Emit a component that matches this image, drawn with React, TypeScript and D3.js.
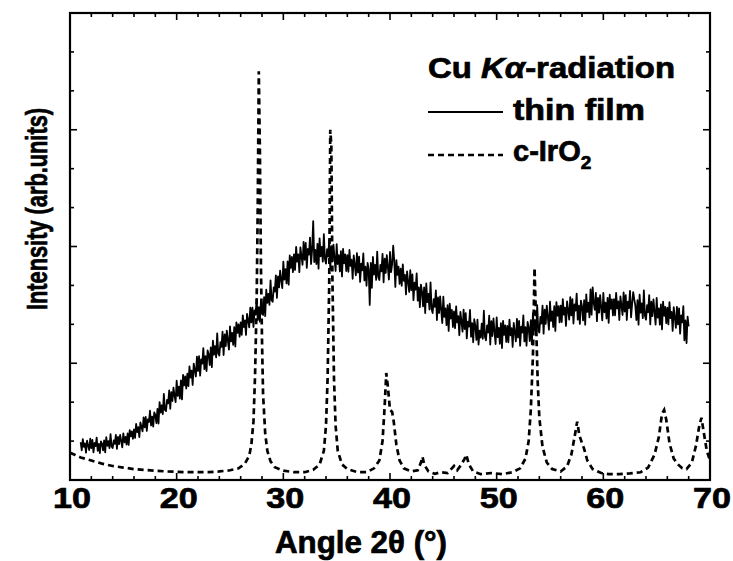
import * as d3 from "d3";

// thin film scan, 11.0° .. 68.0° every 0.1° (arb. units, frame spans 0..12)
const filmStart = 11;
const filmStep = 0.1;
const filmIntensity = [
  0.97, 0.76, 1.05, 0.85, 0.94, 0.7, 1.01, 0.89, 0.77, 1.06,
  0.82, 1.03, 0.71, 0.95, 0.87, 1.09, 0.75, 0.93, 0.69, 0.99,
  0.93, 0.76, 1.02, 0.71, 1.1, 0.88, 1.0, 0.82, 1.18, 0.86,
  0.82, 1.02, 0.93, 1.16, 0.8, 1.11, 0.92, 1.16, 1.0, 0.84,
  1.2, 0.97, 1.11, 0.91, 1.2, 0.9, 1.28, 1.12, 1.25, 1.06,
  1.3, 1.08, 1.44, 1.23, 1.36, 1.1, 1.48, 1.36, 1.25, 1.61,
  1.35, 1.62, 1.26, 1.56, 1.49, 1.78, 1.4, 1.63, 1.37, 1.74,
  1.67, 1.46, 1.83, 1.45, 2.0, 1.73, 1.92, 1.69, 2.21, 1.8,
  1.77, 2.06, 1.97, 2.3, 1.83, 2.26, 2.03, 2.37, 2.17, 2.0,
  2.55, 2.16, 2.4, 2.09, 2.56, 2.07, 2.7, 2.43, 2.66, 2.35,
  2.73, 2.41, 2.92, 2.63, 2.81, 2.44, 2.99, 2.82, 2.66, 3.17,
  2.8, 3.18, 2.68, 3.1, 2.99, 3.39, 2.85, 3.18, 2.8, 3.33,
  3.23, 2.95, 3.41, 2.9, 3.58, 3.22, 3.44, 3.15, 3.77, 3.25,
  3.2, 3.54, 3.42, 3.81, 3.21, 3.74, 3.44, 3.84, 3.58, 3.35,
  3.95, 3.56, 3.78, 3.47, 3.93, 3.43, 4.05, 3.78, 4.0, 3.68,
  4.05, 3.73, 4.23, 3.93, 4.1, 3.73, 4.27, 4.1, 3.92, 4.43,
  4.05, 4.43, 3.93, 4.36, 4.25, 4.65, 4.11, 4.44, 4.07, 4.6,
  4.5, 4.24, 4.7, 4.21, 4.89, 4.55, 4.78, 4.5, 5.13, 4.62,
  4.58, 4.95, 4.84, 5.26, 4.68, 5.23, 4.95, 5.38, 5.14, 4.93,
  5.61, 5.15, 5.42, 5.05, 5.62, 5.02, 5.77, 5.45, 5.73, 5.34,
  5.8, 5.4, 5.99, 5.61, 5.8, 5.34, 5.98, 5.75, 5.53, 6.12,
  5.66, 6.09, 5.45, 5.94, 5.79, 6.23, 5.55, 5.92, 6.65, 5.6,
  5.91, 5.55, 6.07, 5.43, 6.21, 5.75, 5.99, 5.61, 6.32, 5.67,
  5.56, 5.93, 5.74, 6.16, 5.41, 6.0, 5.61, 6.05, 5.7, 5.37,
  6.06, 5.55, 5.78, 5.36, 5.88, 5.23, 5.94, 5.57, 5.8, 5.37,
  5.78, 5.35, 5.91, 5.5, 5.66, 5.17, 5.77, 5.52, 5.26, 5.83,
  5.33, 5.74, 5.09, 5.56, 5.39, 5.82, 5.13, 5.48, 4.99, 5.58,
  5.41, 4.5, 5.58, 4.94, 5.73, 5.28, 5.53, 5.14, 5.87, 5.22,
  5.14, 5.53, 5.36, 5.81, 5.08, 5.69, 5.32, 5.78, 5.46, 5.15,
  5.86, 5.34, 5.55, 6.02, 5.62, 4.96, 5.65, 5.27, 5.48, 5.04,
  5.43, 4.99, 5.54, 5.12, 5.27, 4.77, 5.36, 5.1, 4.83, 5.39,
  4.88, 5.28, 4.62, 5.07, 4.89, 5.31, 4.61, 4.95, 4.44, 5.02,
  4.84, 4.46, 4.95, 4.29, 5.05, 4.57, 4.78, 4.38, 5.08, 4.39,
  4.29, 4.65, 4.45, 4.87, 4.11, 4.69, 4.29, 4.72, 4.37, 4.03,
  4.71, 4.19, 4.41, 3.98, 4.49, 3.83, 4.53, 4.15, 4.37, 3.93,
  4.33, 3.9, 4.46, 4.05, 4.21, 3.72, 4.32, 4.07, 3.81, 4.38,
  3.88, 4.29, 3.64, 4.07, 3.94, 4.37, 3.68, 4.03, 3.54, 4.13,
  3.96, 3.6, 4.12, 3.48, 3.84, 3.66, 4.02, 3.63, 4.35, 3.68,
  3.59, 3.97, 3.79, 4.22, 3.48, 4.08, 3.7, 4.15, 3.81, 3.49,
  4.18, 3.67, 3.91, 3.5, 4.03, 3.39, 4.09, 3.73, 3.97, 3.55,
  3.96, 3.54, 4.12, 3.72, 3.9, 3.42, 4.04, 3.8, 3.56, 4.14,
  3.66, 4.09, 3.45, 3.94, 3.79, 4.23, 3.56, 3.93, 3.45, 4.06,
  3.91, 3.57, 4.11, 3.49, 4.29, 3.85, 4.11, 3.75, 4.49, 3.85,
  3.79, 4.19, 4.02, 4.48, 3.76, 4.38, 4.01, 4.48, 4.17, 3.86,
  4.58, 4.09, 4.33, 3.93, 4.47, 3.83, 4.57, 4.22, 4.47, 4.05,
  4.48, 4.06, 4.65, 4.25, 4.43, 3.96, 4.59, 4.36, 4.12, 4.7,
  4.23, 4.65, 4.02, 4.51, 4.35, 4.79, 4.12, 4.48, 4.01, 4.61,
  4.46, 4.1, 4.62, 3.99, 4.77, 4.32, 4.56, 4.18, 4.9, 4.25,
  4.95, 4.55, 4.37, 4.81, 4.08, 4.68, 4.3, 4.75, 4.43, 4.1,
  4.81, 4.31, 4.56, 4.15, 4.68, 4.04, 4.76, 4.4, 4.64, 4.23,
  4.65, 4.23, 4.81, 4.41, 4.59, 4.11, 4.72, 4.48, 4.24, 4.82,
  4.33, 4.75, 4.11, 4.58, 4.42, 4.86, 4.18, 4.53, 4.83, 4.64,
  4.48, 4.11, 4.62, 3.99, 4.76, 4.3, 4.54, 4.16, 4.87, 4.22,
  4.12, 4.49, 4.31, 4.75, 4.0, 4.58, 4.21, 4.64, 4.32, 3.99,
  4.68, 4.17, 4.41, 3.99, 4.51, 3.87, 4.58, 4.22, 4.45, 4.03,
  4.43, 4.0, 4.57, 4.16, 4.32, 3.83, 4.44, 4.18, 3.91, 4.45,
  4.0, 4.41, 3.76, 4.23, 4.05, 4.47, 3.59, 4.1, 3.52, 4.2,
  3.95,
];

// c-IrO2 reference pattern
const refAngle = [
  10, 10.5, 11, 12, 13, 14, 15, 16, 17, 18, 19, 20, 21, 22, 23, 24, 25, 25.8, 26.4, 26.8, 27, 27.2, 27.35, 27.5, 27.6, 27.7,
  27.8, 27.9, 28, 28.1, 28.3, 28.5, 28.8, 29.2, 30, 31, 32, 32.8, 33.4, 33.8, 34, 34.15, 34.3, 34.4, 34.5, 34.6, 34.75, 34.9,
  35.1, 35.5, 36, 37, 37.8, 38.5, 39, 39.3, 39.5, 39.65, 39.8, 40, 40.2, 40.35, 40.6, 40.9, 41.3, 42, 42.6, 42.9, 43.05, 43.2,
  43.6, 44.2, 44.8, 45.4, 45.8, 46, 46.3, 46.7, 47, 47.15, 47.4, 47.8, 48.5, 49.5, 50.5, 51.5, 52.2, 52.7, 53, 53.2, 53.4,
  53.55, 53.7, 53.85, 54, 54.3, 54.7, 55.2, 56, 56.6, 57, 57.3, 57.55, 57.75, 58, 58.2, 58.5, 59, 59.8, 60.5, 61.5, 62.5, 63.5,
  64.2, 64.8, 65.2, 65.5, 65.7, 65.9, 66.2, 66.6, 67, 67.4, 67.8, 68.3, 68.7, 69, 69.2, 69.4, 69.7, 70,
];
const refIntensity = [
  0.7, 0.64, 0.58, 0.5, 0.42, 0.36, 0.32, 0.28, 0.26, 0.24, 0.22, 0.21, 0.2, 0.2, 0.2, 0.22, 0.25, 0.3, 0.42, 0.62, 0.9, 1.5, 2.7, 4.6, 7.0, 10.5,
  8.5, 5.5, 3.6, 2.2, 1.2, 0.75, 0.48, 0.33, 0.24, 0.2, 0.2, 0.26, 0.4, 0.75, 1.4, 2.6, 5.0, 9.0, 8.6, 5.2, 2.6, 1.4,
  0.75, 0.4, 0.28, 0.2, 0.2, 0.3, 0.5, 1.0, 1.9, 2.75, 2.4, 1.8, 1.75, 1.5, 0.9, 0.5, 0.3, 0.22, 0.25, 0.45, 0.6, 0.4,
  0.22, 0.16, 0.2, 0.18, 0.3, 0.36, 0.25, 0.4, 0.55, 0.65, 0.4, 0.22, 0.15, 0.18, 0.15, 0.2, 0.3, 0.55, 1.0, 1.8, 3.2,
  5.45, 4.0, 2.5, 1.6, 0.85, 0.45, 0.28, 0.22, 0.35, 0.65, 1.1, 1.5, 1.15, 0.95, 0.8, 0.5, 0.28, 0.18, 0.15, 0.15, 0.17, 0.2,
  0.32, 0.65, 1.1, 1.7, 1.8, 1.55, 0.95, 0.55, 0.4, 0.3, 0.28, 0.45, 0.9, 1.4, 1.6, 1.25, 0.75, 0.5,
];

const xTickLabels = [10, 20, 30, 40, 50, 60, 70];
const legendTitle = "Cu ";
const seriesNames = ["thin film", "c-IrO"];

const font = "'Liberation Sans', Arial, sans-serif";
// scanned figure: glyphs look heavier than plain bold
const heavy = { fontFamily: font, fontWeight: "bold" as const, stroke: "#000", strokeWidth: 0.7 };

export default function App() {
  const left = 70, right = 710, top = 13, bottom = 480;
  const x = d3.scaleLinear().domain([10, 70]).range([left, right]);
  const y = d3.scaleLinear().domain([0, 12]).range([bottom, top]);

  const film = filmIntensity.map((v, i) => [filmStart + i * filmStep, v] as [number, number]);
  const ref = refAngle.map((a, i) => [a, refIntensity[i]] as [number, number]);

  const line = d3.line<[number, number]>().x((d) => x(d[0])).y((d) => y(d[1]));

  const xMinor = d3.range(10, 70.01, 2);
  const yMinor = d3.range(0, 12.01, 1);

  return (
    <div style={{ position: "absolute", left: 0, top: 0 }}>
      <svg width={733} height={561} style={{ display: "block", background: "#fff" }}>
        <defs>
          <clipPath id="plot">
            <rect x={left} y={top} width={right - left} height={bottom - top} />
          </clipPath>
        </defs>

        <g clipPath="url(#plot)">
          <path d={line(ref) ?? ""} fill="none" stroke="#000" strokeWidth={2.7} strokeDasharray="6,4" />
          <path d={line(film) ?? ""} fill="none" stroke="#000" strokeWidth={1.8} strokeLinejoin="round" />
        </g>

        {/* frame */}
        <rect x={left} y={top} width={right - left} height={bottom - top} fill="none" stroke="#000" strokeWidth={2.2} />

        {/* ticks on all four sides, pointing inwards */}
        {xMinor.map((t) => {
          const len = t % 10 === 0 ? 7 : 4;
          return (
            <g key={"xt" + t} stroke="#000" strokeWidth={1.6}>
              <line x1={x(t)} x2={x(t)} y1={bottom} y2={bottom - len} />
              <line x1={x(t)} x2={x(t)} y1={top} y2={top + len} />
            </g>
          );
        })}
        {yMinor.map((t) => {
          const len = t % 3 === 0 ? 7 : 4;
          return (
            <g key={"yt" + t} stroke="#000" strokeWidth={1.6}>
              <line x1={left} x2={left + len} y1={y(t)} y2={y(t)} />
              <line x1={right} x2={right - len} y1={y(t)} y2={y(t)} />
            </g>
          );
        })}

        {xTickLabels.map((t) => (
          <text key={"xl" + t} x={x(t) + 2} y={508} textAnchor="middle" fontSize={29} {...heavy}
            textLength={38} lengthAdjust="spacingAndGlyphs">
            {t}
          </text>
        ))}

        <text x={361} y={553} textAnchor="middle" fontSize={31} {...heavy}
          textLength={172} lengthAdjust="spacingAndGlyphs">
          Angle 2θ (°)
        </text>

        <text transform="translate(47,209) rotate(-90)" textAnchor="middle" fontSize={29} {...heavy}
          textLength={202} lengthAdjust="spacingAndGlyphs">
          Intensity (arb.units)
        </text>

        {/* legend */}
        <text x={428} y={78} fontSize={29} {...heavy} textLength={247} lengthAdjust="spacingAndGlyphs">
          {legendTitle}
          <tspan fontStyle="italic">Kα</tspan>-radiation
        </text>
        <line x1={428} x2={503} y1={112} y2={112} stroke="#000" strokeWidth={1.8} />
        <text x={513} y={120} fontSize={29} {...heavy} textLength={132} lengthAdjust="spacingAndGlyphs">
          {seriesNames[0]}
        </text>
        <line x1={428} x2={503} y1={155} y2={155} stroke="#000" strokeWidth={2.4} strokeDasharray="6,4" />
        <text x={513} y={161} fontSize={29} {...heavy}>
          {seriesNames[1]}
          <tspan fontSize={19} dy={8}>2</tspan>
        </text>
      </svg>
    </div>
  );
}
